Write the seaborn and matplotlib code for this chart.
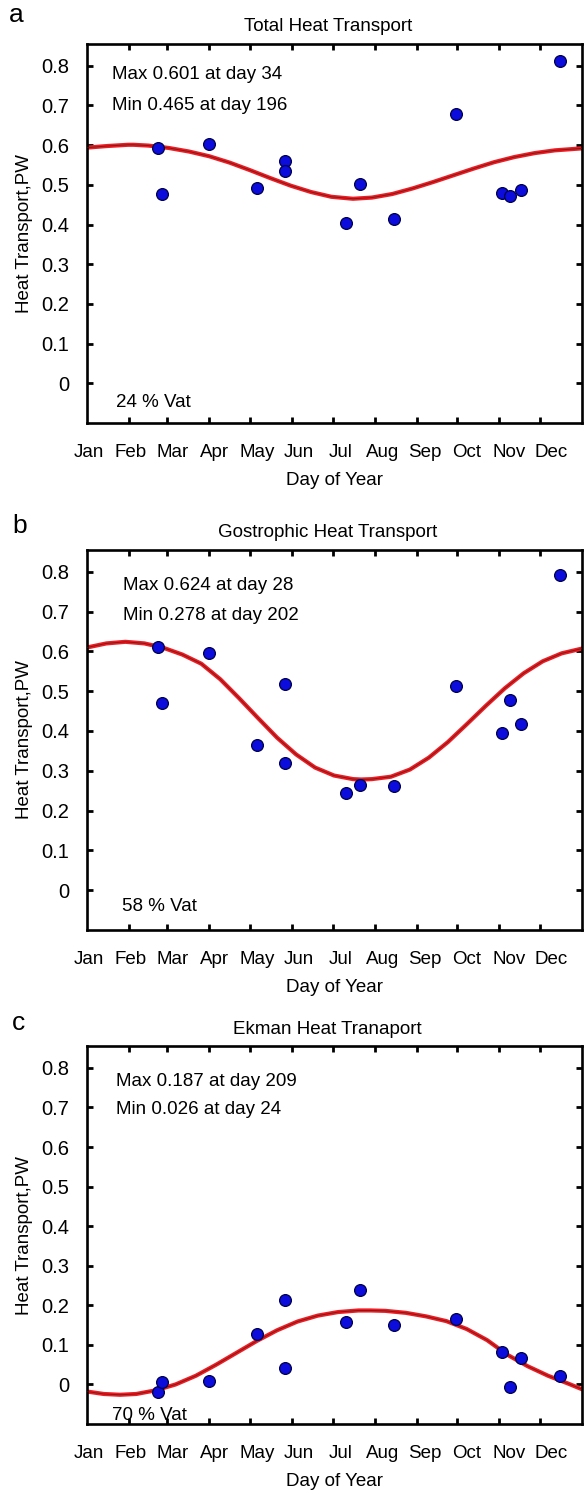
import seaborn as sns
import matplotlib.pyplot as plt
import pandas as pd

sns.set_style("ticks")
plt.rcParams['font.family'] = ['Liberation Sans', 'DejaVu Sans']
plt.rcParams['text.color'] = 'black'
plt.rcParams['axes.labelcolor'] = 'black'
plt.rcParams['xtick.color'] = 'black'
plt.rcParams['ytick.color'] = 'black'

months = ['Jan', 'Feb', 'Mar', 'Apr', 'May', 'Jun', 'Jul', 'Aug', 'Sep', 'Oct', 'Nov', 'Dec']
month_label_days = [1, 32, 63, 94, 125, 156, 187, 218, 249, 280, 311, 342]
month_start_days = [31, 59, 90, 120, 151, 181, 212, 243, 273, 304, 334]
y_ticks = [0, 0.1, 0.2, 0.3, 0.4, 0.5, 0.6, 0.7, 0.8]
y_ticklabels = ['0', '0.1', '0.2', '0.3', '0.4', '0.5', '0.6', '0.7', '0.8']

# observation days (shared by the three panels)
obs_days = [52, 55, 90, 125, 146, 146, 191, 201, 226, 272, 306, 312, 320, 349]
total_obs = [0.592, 0.476, 0.604, 0.493, 0.559, 0.534, 0.403, 0.502, 0.415, 0.678, 0.480, 0.473, 0.488, 0.813]
geo_obs = [0.611, 0.470, 0.596, 0.365, 0.517, 0.320, 0.243, 0.263, 0.262, 0.513, 0.396, 0.479, 0.418, 0.793]
ekman_obs = [-0.019, 0.006, 0.008, 0.127, 0.214, 0.041, 0.158, 0.238, 0.151, 0.166, 0.083, -0.006, 0.068, 0.021]

# fitted seasonal curves
total_fit_days = [0, 15, 30, 34, 45, 60, 75, 90, 105, 120, 135, 150, 165, 180, 196,
                  210, 225, 240, 255, 270, 285, 300, 315, 330, 345, 365]
total_fit = [0.594, 0.598, 0.601, 0.601, 0.599, 0.593, 0.584, 0.572, 0.556, 0.537, 0.517, 0.498, 0.482,
             0.470, 0.465, 0.468, 0.477, 0.491, 0.507, 0.524, 0.541, 0.557, 0.570, 0.580, 0.587, 0.592]

geo_fit_days = [0, 14, 28, 42, 56, 70, 84, 98, 112, 126, 140, 154, 168, 182, 196, 202,
                210, 224, 238, 252, 266, 280, 294, 308, 322, 336, 350, 365]
geo_fit = [0.610, 0.620, 0.624, 0.620, 0.609, 0.592, 0.569, 0.530, 0.482, 0.432, 0.383, 0.341, 0.308,
           0.288, 0.279, 0.278, 0.279, 0.285, 0.303, 0.333, 0.372, 0.417, 0.463, 0.507, 0.545, 0.575,
           0.595, 0.607]

ekman_fit_days = [0, 12, 24, 36, 50, 65, 80, 95, 110, 125, 140, 155, 170, 185, 200, 209,
                  220, 235, 250, 265, 280, 295, 310, 325, 340, 355, 365]
ekman_fit = [-0.018, -0.024, -0.026, -0.024, -0.015, 0.000, 0.022, 0.050, 0.080, 0.110, 0.137, 0.159,
             0.174, 0.183, 0.187, 0.187, 0.186, 0.181, 0.172, 0.160, 0.140, 0.112, 0.075, 0.046,
             0.022, 0.002, -0.012]

panels = [
    dict(letter='a', title='Total Heat Transport', obs=total_obs, fd=total_fit_days, fit=total_fit,
         tmax='Max 0.601 at day 34', tmin='Min 0.465 at day 196', vat='24 % Vat',
         txt_x=18, y_max=0.777, y_min=0.699, vat_x=21, vat_y=-0.048,
         pos=[0.1498, 0.7163, 0.8467, 0.2542], lx=0.015, ly=0.9854),
    dict(letter='b', title='Gostrophic Heat Transport', obs=geo_obs, fd=geo_fit_days, fit=geo_fit,
         tmax='Max 0.624 at day 28', tmin='Min 0.278 at day 202', vat='58 % Vat',
         txt_x=26, y_max=0.766, y_min=0.691, vat_x=25.5, vat_y=-0.040,
         pos=[0.1498, 0.3763, 0.8467, 0.2549], lx=0.021, ly=0.6425),
    dict(letter='c', title='Ekman Heat Tranaport', obs=ekman_obs, fd=ekman_fit_days, fit=ekman_fit,
         tmax='Max 0.187 at day 209', tmin='Min 0.026 at day 24', vat='70 % Vat',
         txt_x=20.7, y_max=0.765, y_min=0.694, vat_x=17.9, vat_y=-0.078,
         pos=[0.1498, 0.0449, 0.8467, 0.2535], lx=0.021, ly=0.3092),
]

fig = plt.figure(figsize=(5.84, 14.91), dpi=100)

for p in panels:
    ax = fig.add_axes(p['pos'])
    fit_df = pd.DataFrame({'day': p['fd'], 'pw': p['fit']})
    obs_df = pd.DataFrame({'day': obs_days, 'pw': p['obs']})

    sns.lineplot(data=fit_df, x='day', y='pw', ax=ax, color='#ee1c24', linewidth=3.0, zorder=2)
    sns.lineplot(data=fit_df, x='day', y='pw', ax=ax, color='#5a1a10', linewidth=0.7, alpha=0.75, zorder=3)
    sns.scatterplot(data=obs_df, x='day', y='pw', ax=ax, color='#0c0cdc', edgecolor='#00004a',
                    linewidth=0.9, s=72, zorder=4)

    ax.set_xlim(0, 365)
    ax.set_ylim(-0.1, 0.855)

    ax.set_xticks(month_label_days)
    ax.set_xticklabels(months, fontsize=13.5)
    ax.set_xticks(month_start_days, minor=True)
    ax.tick_params(axis='x', which='major', length=0, pad=15)
    ax.tick_params(axis='x', which='minor', direction='in', length=4, width=2,
                   top=True, bottom=True)
    ax.set_yticks(y_ticks)
    ax.set_yticklabels(y_ticklabels, fontsize=14.5)
    ax.tick_params(axis='y', direction='in', length=4, width=2, left=True, right=True, pad=13)

    for s in ax.spines.values():
        s.set_linewidth(1.9)
        s.set_color('black')

    ax.set_xlabel('Day of Year', fontsize=13.5, labelpad=8)
    ax.set_ylabel('Heat Transport,PW', fontsize=13.5, labelpad=6)
    ax.set_title(p['title'], fontsize=13.5, x=0.486, pad=9)

    ax.text(p['txt_x'], p['y_max'], p['tmax'], fontsize=13.5, va='center', ha='left')
    ax.text(p['txt_x'], p['y_min'], p['tmin'], fontsize=13.5, va='center', ha='left')
    ax.text(p['vat_x'], p['vat_y'], p['vat'], fontsize=13.5, va='center', ha='left')

    fig.text(p['lx'], p['ly'], p['letter'], fontsize=19, va='baseline', ha='left')

fig.savefig('out.png', dpi=100)
